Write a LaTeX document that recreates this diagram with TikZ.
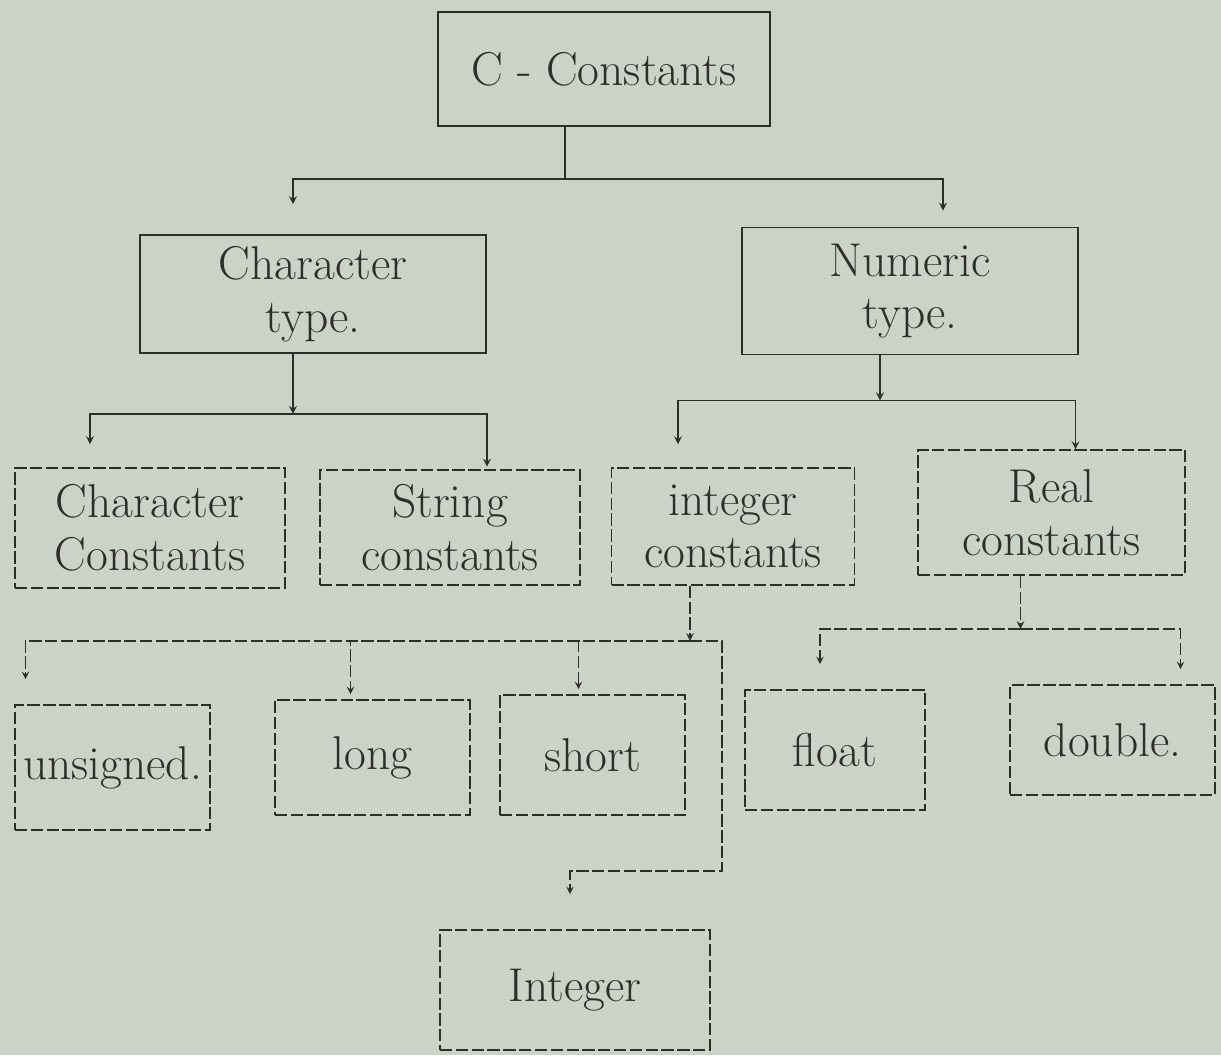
\documentclass[tikz,border=0pt]{standalone}
\usepackage{xcolor}
\usepackage{tikz}
\usetikzlibrary{shapes,arrows,positioning}
\definecolor{paper}{RGB}{203,210,200}
\definecolor{ink}{RGB}{45,45,42}

\begin{document}
\begin{tikzpicture}[font=\fontsize{27}{30}\selectfont, text=ink]
    % Define styles
    \tikzstyle{mainbox} = [rectangle, draw=ink, line width=1pt, align=center, inner sep=1pt]
    \tikzstyle{subbox} = [rectangle, draw=ink, line width=0.9pt, dash pattern=on 7pt off 2pt, align=center, inner sep=1pt]
    \tikzstyle{line} = [draw=ink, line width=1pt]
    \tikzstyle{arrow} = [draw=ink, line width=1pt, ->, >=stealth]
    \tikzstyle{dasharrow} = [draw=ink, line width=0.9pt, ->, >=stealth, dash pattern=on 7pt off 2pt]

    % Paper
    \fill[paper] (0,0) rectangle (24.42,-21.1);
    \useasboundingbox (0,0) rectangle (24.42,-21.1);

    % Top levels
    \node [mainbox, minimum width=6.64cm, minimum height=2.28cm] (ccon) at (12.08,-1.38) {C - Constants};
    \node [mainbox, minimum width=6.92cm, minimum height=2.36cm] (chartype) at (6.26,-5.88) {Character\\type.};
    \node [mainbox, minimum width=6.72cm, minimum height=2.54cm] (numtype) at (18.2,-5.82) {Numeric\\type.};

    % Constant kinds
    \node [subbox, minimum width=5.4cm, minimum height=2.4cm] (charcon) at (3.0,-10.56) {Character\\Constants};
    \node [subbox, minimum width=5.2cm, minimum height=2.3cm] (strcon) at (9.0,-10.55) {String\\constants};
    \node [subbox, minimum width=4.86cm, minimum height=2.34cm] (intcon) at (14.66,-10.53) {integer\\constants};
    \node [subbox, minimum width=5.34cm, minimum height=2.5cm] (realcon) at (21.03,-10.25) {Real\\constants};

    % Data types
    \node [subbox, minimum width=3.9cm, minimum height=2.5cm] (unsig) at (2.25,-15.35) {unsigned.};
    \node [subbox, minimum width=3.9cm, minimum height=2.3cm] (long) at (7.45,-15.15) {long};
    \node [subbox, minimum width=3.7cm, minimum height=2.4cm] (short) at (11.85,-15.1) {short};
    \node [subbox, minimum width=3.6cm, minimum height=2.4cm] (float) at (16.7,-15.0) {float};
    \node [subbox, minimum width=4.1cm, minimum height=2.2cm] (double) at (22.25,-14.8) {double.};
    \node [subbox, minimum width=5.4cm, minimum height=2.4cm] (integer) at (11.5,-19.8) {Integer};

    % Arrows from C - Constants
    \draw [line] ([xshift=-0.78cm]ccon.south) -- ++(0,-1.04) coordinate (b1);
    \draw [arrow, shorten >=0.6cm] (b1) -| ([xshift=-0.4cm]chartype.north);
    \draw [arrow, shorten >=0.32cm] (b1) -| ([xshift=0.66cm]numtype.north);

    % Character type
    \draw [arrow] ([xshift=-0.4cm]chartype.south) -- ++(0,-1.2) coordinate (b2);
    \draw [arrow, shorten >=0.46cm] (b2) -| ([xshift=-1.2cm]charcon.north);
    \draw [arrow, shorten >=0.05cm] (b2) -| ([xshift=0.74cm]strcon.north);

    % Numeric type
    \draw [arrow] ([xshift=-0.6cm]numtype.south) -- ++(0,-0.9) coordinate (b3);
    \draw [arrow, shorten >=0.46cm] (b3) -| ([xshift=-1.1cm]intcon.north);
    \draw [arrow] (b3) -| ([xshift=0.48cm]realcon.north);

    % Integer constants
    \draw [dasharrow] ([xshift=-0.86cm]intcon.south) -- ++(0,-1.1) coordinate (b4);
    \draw [dasharrow, shorten >=0.5cm] (b4) -| ([xshift=-1.74cm]unsig.north);
    \draw [dasharrow, shorten >=0.1cm] (b4) -| ([xshift=-0.44cm]long.north);
    \draw [dasharrow, shorten >=0.1cm] (b4) -| ([xshift=-0.28cm]short.north);
    \draw [dasharrow, shorten >=0.7cm] (b4) -| ++(0.64,-4.6) -| ([xshift=-0.1cm]integer.north);

    % Real constants
    \draw [dasharrow] ([xshift=-0.62cm]realcon.south) -- ++(0,-1.06) coordinate (b5);
    \draw [dasharrow, shorten >=0.5cm] (b5) -| ([xshift=-0.3cm]float.north);
    \draw [dasharrow, shorten >=0.3cm] (b5) -| ([xshift=1.36cm]double.north);
\end{tikzpicture}
\end{document}
